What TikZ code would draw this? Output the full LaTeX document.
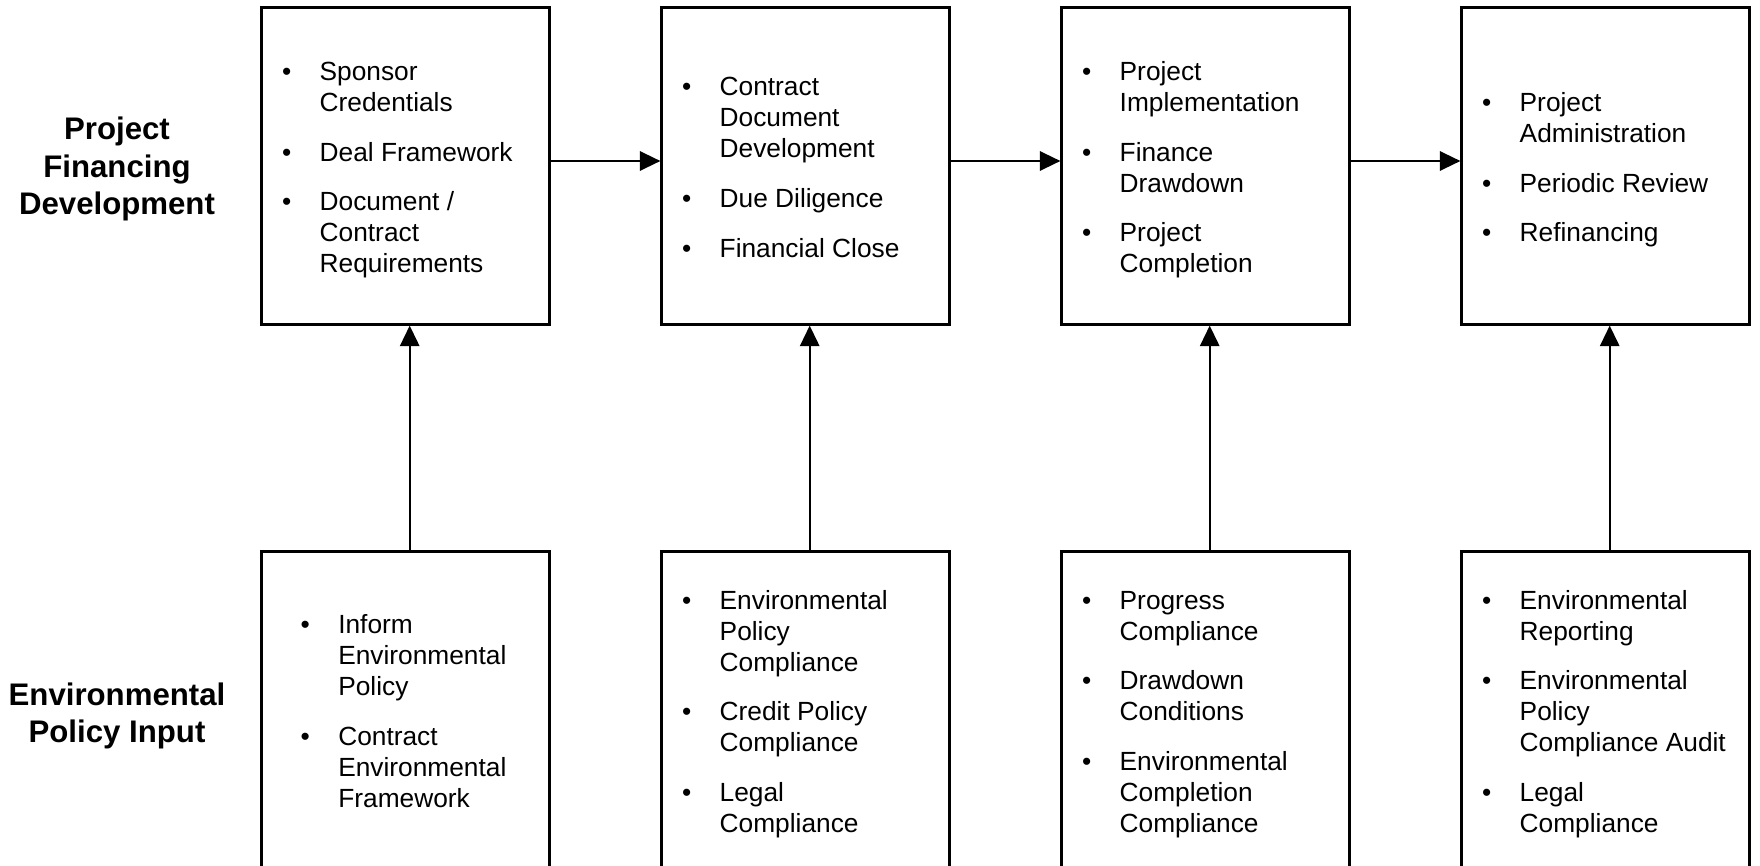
\documentclass[tikz,border=0pt]{standalone}
\usepackage{fontspec}
\setmainfont{Liberation Sans}
\usetikzlibrary{arrows.meta}

% bulleted list inside a stage box
\newlength\bulind
\newcommand\bul[1]{\par\noindent\hspace*{\dimexpr10.3pt+\bulind\relax}%
  \makebox[18.8pt][l]{\textbullet}%
  \begin{tabular}[t]{@{}l@{}}#1\end{tabular}\par}
\newcommand\boxtext[2][0pt]{\parbox{144pt}{%
  \fontsize{13.15pt}{15.5pt}\selectfont
  \setlength\parskip{9.35pt}\setlength\lineskip{0pt}%
  \setlength\bulind{#1}#2\vspace{-4.5pt}}}

\tikzset{
  stagebox/.style={draw=black, line width=1.1pt, fill=white,
    minimum width=144pt, minimum height=158.5pt,
    inner xsep=0pt, inner ysep=0pt},
  rowlabel/.style={align=center, inner sep=0pt,
    font=\bfseries\fontsize{15.6pt}{18.6pt}\selectfont},
  flow/.style={draw=black, line width=1pt,
    -{Triangle[length=10.3pt,width=9.7pt]}},
}

\begin{document}
\begin{tikzpicture}[x=0.5pt, y=-0.5pt]
\useasboundingbox (0,0) rectangle (1760,866);
\clip (0,0) rectangle (1760,866);
\fill[white] (0,0) rectangle (1760,866);

% row headings
\node[rowlabel] (hTop) at (117,169) {Project\\Financing\\Development};
\node[rowlabel] (hBot) at (117,716) {Environmental\\Policy Input};

% project financing stages
\node[stagebox] (u1) at (405.5,166) {\boxtext{%
  \bul{Sponsor\\Credentials}\bul{Deal Framework}\bul{Document /\\Contract\\Requirements}}};
\node[stagebox] (u2) at (805.5,166) {\boxtext{%
  \bul{Contract\\Document\\Development}\bul{Due Diligence}\bul{Financial Close}}};
\node[stagebox] (u3) at (1205.5,166) {\boxtext{%
  \bul{Project\\Implementation}\bul{Finance\\Drawdown}\bul{Project\\Completion}}};
\node[stagebox] (u4) at (1605.5,166) {\boxtext{%
  \bul{Project\\Administration}\bul{Periodic Review}\bul{Refinancing}}};

% environmental policy inputs
\node[stagebox] (l1) at (405.5,710) {\boxtext[9.3pt]{%
  \bul{Inform\\Environmental\\Policy}\bul{Contract\\Environmental\\Framework}}};
\node[stagebox] (l2) at (805.5,710) {\boxtext{%
  \bul{Environmental\\Policy\\Compliance}\bul{Credit Policy\\Compliance}\bul{Legal\\Compliance}}};
\node[stagebox] (l3) at (1205.5,710) {\boxtext{%
  \bul{Progress\\Compliance}\bul{Drawdown\\Conditions}\bul{Environmental\\Completion\\Compliance}}};
\node[stagebox] (l4) at (1605.5,710) {\boxtext{%
  \bul{Environmental\\Reporting}\bul{Environmental\\Policy\\Compliance Audit}\bul{Legal\\Compliance}}};

% stage sequence
\draw[flow] ([yshift=2.5pt]u1.east) -- ([yshift=2.5pt]u2.west);
\draw[flow] ([yshift=2.5pt]u2.east) -- ([yshift=2.5pt]u3.west);
\draw[flow] ([yshift=2.5pt]u3.east) -- ([yshift=2.5pt]u4.west);

% policy inputs feeding each stage
\draw[flow] ([xshift=2.1pt]l1.north) -- ([xshift=2.1pt]u1.south);
\draw[flow] ([xshift=2.1pt]l2.north) -- ([xshift=2.1pt]u2.south);
\draw[flow] ([xshift=2.1pt]l3.north) -- ([xshift=2.1pt]u3.south);
\draw[flow] ([xshift=2.1pt]l4.north) -- ([xshift=2.1pt]u4.south);
\end{tikzpicture}
\end{document}
